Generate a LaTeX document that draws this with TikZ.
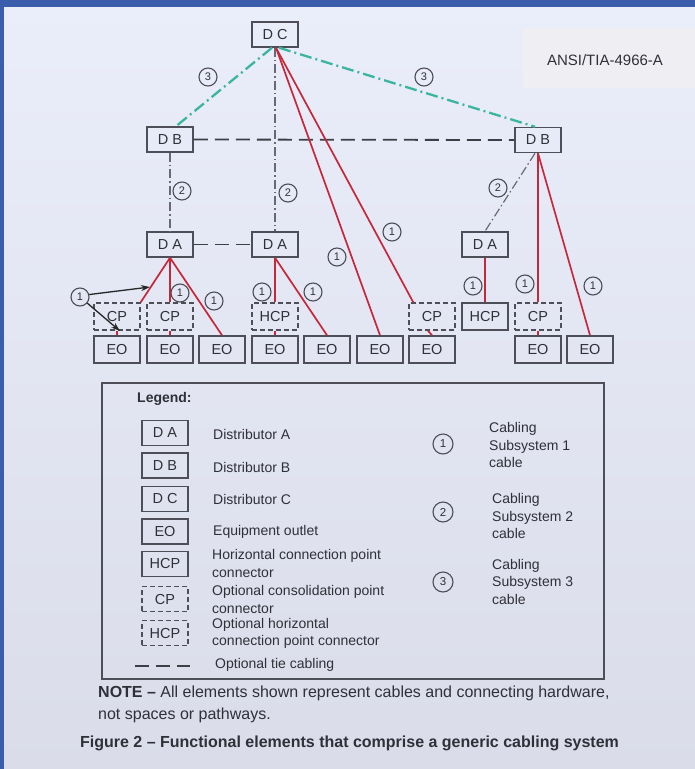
\documentclass[tikz,border=0pt]{standalone}
\usepackage{fontspec}
\setmainfont{Liberation Sans}
\usetikzlibrary{arrows.meta,calc}
\definecolor{bgtop}{RGB}{234,237,250}
\definecolor{bgbot}{RGB}{218,220,234}
\definecolor{frameblue}{RGB}{58,94,172}
\definecolor{boxline}{RGB}{78,78,88}
\definecolor{txt}{RGB}{48,48,56}
\definecolor{cab1}{RGB}{196,40,58}
\definecolor{cab3}{RGB}{58,182,160}
\definecolor{cab2}{RGB}{105,105,118}
\definecolor{ansibg}{RGB}{239,239,243}
\begin{document}
\begin{tikzpicture}[x=1pt,y=-1pt,
 box/.style={draw=boxline, line width=1.5pt, minimum width=46pt, minimum height=25pt, inner sep=0pt, text=txt, font=\fontsize{14.5}{16}\selectfont},
 dbox/.style={box, dash pattern=on 5pt off 3pt},
 numc/.style={circle, draw=boxline, line width=1.1pt, minimum size=18pt, inner sep=0pt, text=txt, font=\fontsize{11}{11}\selectfont},
 bignumc/.style={numc, minimum size=20pt, font=\fontsize{11.5}{11.5}\selectfont},
 red1/.style={draw=cab1, line width=1.7pt},
 teal3/.style={draw=cab3, line width=2.3pt, dash pattern=on 12pt off 4pt on 2pt off 4pt},
 gray2/.style={draw=cab2, line width=1.2pt, dash pattern=on 9pt off 3pt on 1.5pt off 3pt},
 tie/.style={draw=boxline!80!black, line width=1.8pt, dash pattern=on 14pt off 7pt},
 ltxt/.style={anchor=west, align=left, inner sep=0pt, text=txt, font=\fontsize{14}{17.5}\selectfont},
 pointer/.style={draw=black!85, line width=1.3pt, -{Stealth[length=9pt,width=6pt]}},
]
% background
\fill[top color=bgtop, bottom color=bgbot] (0,0) rectangle (695,769);
\fill[frameblue] (0,0) rectangle (695,7);
\fill[frameblue] (0,0) rectangle (4,769);
\useasboundingbox (0,0) rectangle (695,769);

% standard label
\fill[ansibg] (523,28) rectangle (695,88);
\node[text=txt, font=\fontsize{15}{15}\selectfont] (ansi) at (605,60) {ANSI/TIA-4966-A};

% distributors
\node[box] (DC) at (275,34.5) {D C};
\node[box] (DBL) at (170,139.5) {D B};
\node[box] (DBR) at (538,140) {D B};
\node[box] (DA1) at (170,244.5) {D A};
\node[box] (DA2) at (275,244.5) {D A};
\node[box] (DA3) at (485,244.5) {D A};

% consolidation / connection points
\node[dbox, minimum height=27pt] (CP1) at (117,316.5) {CP};
\node[dbox, minimum height=27pt] (CP2) at (170,316.5) {CP};
\node[dbox, minimum height=27pt] (HCPd) at (275,316.5) {HCP};
\node[dbox, minimum height=27pt] (CP3) at (432,316.5) {CP};
\node[box, minimum height=27pt] (HCP) at (485,316.5) {HCP};
\node[dbox, minimum height=27pt] (CP4) at (538,316.5) {CP};

% equipment outlets
\foreach \n/\x in {1/117,2/170,3/222,4/275,5/327,6/380,7/432,8/538,9/590}
  \node[box, minimum height=27pt] (EO\n) at (\x,349.5) {EO};

% subsystem 3 cables
\draw[teal3] ([xshift=-3pt]DC.south) -- ([xshift=6pt]DBL.north);
\draw[teal3] ([xshift=4pt]DC.south) -- ([xshift=-3pt]DBR.north);
\node[numc] (n3a) at (208,77) {3};
\node[numc] (n3b) at (424,77) {3};

% subsystem 2 cables
\draw[gray2] (DC.south) -- (DA2.north);
\draw[gray2] (DBL.south) -- (DA1.north);
\draw[gray2] ([xshift=-3pt]DBR.south) -- (DA3.north);
\node[numc] (n2a) at (182,191) {2};
\node[numc] (n2b) at (288,193) {2};
\node[numc] (n2c) at (498,188) {2};

% optional tie cabling
\draw[tie] (DBL.east) -- (DBR.west);
\draw[tie] (DA1.east) -- (DA2.west);

% subsystem 1 cables
\draw[red1] ([xshift=1pt]DC.south) -- (EO6.north);
\draw[red1] ([xshift=1pt]DC.south) -- ([xshift=5pt]CP3.north west);
\draw[red1] ([xshift=-4pt]CP3.south) -- (EO7.north);
\draw[red1] (DA1.south) -- (CP1.north east);
\draw[red1] (DA1.south) -- (CP2.north);
\draw[red1] (DA1.south) -- (EO3.north);
\draw[red1] (CP1.south) -- (EO1.north);
\draw[red1] (CP2.south) -- (EO2.north);
\draw[red1] (DA2.south) -- (HCPd.north);
\draw[red1] (DA2.south) -- (EO5.north);
\draw[red1] (HCPd.south) -- (EO4.north);
\draw[red1] (DA3.south) -- (HCP.north);
\draw[red1] (DBR.south) -- (CP4.north);
\draw[red1] (CP4.south) -- (EO8.north);
\draw[red1] (DBR.south) -- (EO9.north);

\node[numc] (n1a) at (180,293) {1};
\node[numc] (n1b) at (214,301) {1};
\node[numc] (n1c) at (262,292) {1};
\node[numc] (n1d) at (313,292) {1};
\node[numc] (n1e) at (337,257) {1};
\node[numc] (n1f) at (392,232) {1};
\node[numc] (n1g) at (473,286) {1};
\node[numc] (n1h) at (525,284) {1};
\node[numc] (n1i) at (593,286) {1};

% pointer circle
\node[numc] (n1p) at (80,297) {1};
\coordinate (tipA) at (150,287);
\coordinate (tipB) at (120,331);
\draw[pointer] (n1p.15) -- (tipA);
\draw[pointer] (n1p.-40) -- (tipB);

% legend
\draw[draw=boxline, line width=1.3pt] (102,383) rectangle (604,679);
\node[anchor=west, inner sep=0pt, text=txt, font=\bfseries\fontsize{14}{16}\selectfont] (legt) at (137,399) {Legend:};
\node[box] (lDA) at (165,433) {D A};
\node[box] (lDB) at (165,465.5) {D B};
\node[box] (lDC) at (165,499) {D C};
\node[box] (lEO) at (165,531.5) {EO};
\node[box] (lHCP) at (165,564) {HCP};
\node[dbox] (lCP) at (165,599) {CP};
\node[dbox] (lHCPd) at (165,633) {HCP};
\coordinate (ltA) at (135,666);
\coordinate (ltB) at (190,666);
\draw[tie, line width=1.6pt] (ltA) -- (ltB);

\node[ltxt] at (213,434) {Distributor A};
\node[ltxt] at (213,467) {Distributor B};
\node[ltxt] at (213,499) {Distributor C};
\node[ltxt] at (213,532) {Equipment outlet};
\node[ltxt] at (212,563.5) {Horizontal connection point\\connector};
\node[ltxt] at (212,599.5) {Optional consolidation point\\connector};
\node[ltxt] at (212,633.5) {Optional horizontal\\connection point connector};
\node[ltxt] at (215,665) {Optional tie cabling};

\node[bignumc] (lg1) at (443,444) {1};
\node[bignumc] (lg2) at (443,512) {2};
\node[bignumc] (lg3) at (443,582) {3};
\node[ltxt] at (489,445) {Cabling\\Subsystem 1\\cable};
\node[ltxt] at (492,516) {Cabling\\Subsystem 2\\cable};
\node[ltxt] at (492,581.5) {Cabling\\Subsystem 3\\cable};

% note and caption
\node[anchor=west, align=left, inner sep=0pt, text=txt, font=\fontsize{16}{22}\selectfont] (note) at (98,704) {\textbf{NOTE –} All elements shown represent cables and connecting hardware,\\not spaces or pathways.};
\node[inner sep=0pt, text=txt, font=\bfseries\fontsize{16}{18}\selectfont] (cap) at (349.5,743) {Figure 2 – Functional elements that comprise a generic cabling system};
\end{tikzpicture}
\end{document}
